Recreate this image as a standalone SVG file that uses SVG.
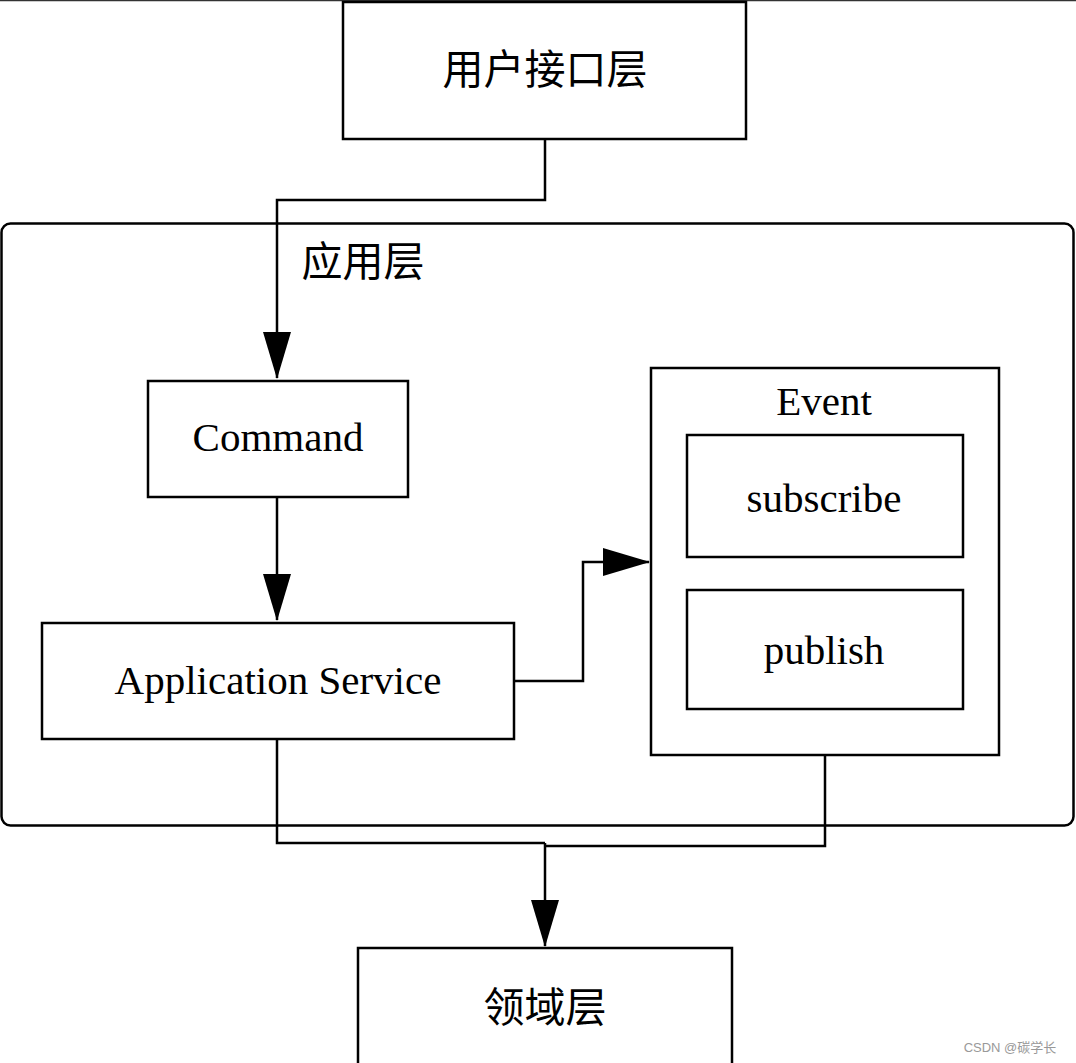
<svg xmlns="http://www.w3.org/2000/svg" width="1076" height="1063" viewBox="0 0 1076 1063">
<style>
.box{fill:#fff;stroke:#000;stroke-width:2.5}
.cont{fill:none;stroke:#000;stroke-width:2.5}
.ln{fill:none;stroke:#000;stroke-width:2.5}
.t{font-family:"Liberation Serif","Noto Sans CJK SC",serif;font-size:41px;fill:#000;text-anchor:middle;dominant-baseline:central}
.e{font-family:"Liberation Serif","Noto Sans CJK SC",serif;font-size:41px;fill:#000;text-anchor:middle;dominant-baseline:central}
.wm{font-family:"Liberation Sans","Noto Sans CJK SC",sans-serif;font-size:13px;fill:#999;text-anchor:middle;dominant-baseline:central}
</style>
<defs>
<marker id="ah" markerUnits="userSpaceOnUse" markerWidth="47" markerHeight="28" refX="46" refY="14" viewBox="0 0 47 28" orient="auto">
<path d="M0,0 L47,14 L0,28 Z" fill="#000"/>
</marker>
</defs>
<rect width="1076" height="1063" fill="#fff"/>
<line x1="0" y1="0.5" x2="1076" y2="0.5" stroke="#333" stroke-width="1.5"/>
<g id="app-layer">
<rect class="cont" x="1.5" y="223.5" width="1072" height="602" rx="9"/>
<text class="t" x="363" y="262">应用层</text>
</g>
<g id="connectors">
<polyline class="ln" points="545,139 545,200 277,200 277,378" marker-end="url(#ah)"/>
<polyline class="ln" points="277,497 277,620" marker-end="url(#ah)"/>
<polyline class="ln" points="514,681 583,681 583,562 649,562" marker-end="url(#ah)"/>
<polyline class="ln" points="277,739 277,843 545,843"/>
<polyline class="ln" points="825,755 825,846 545,846"/>
<polyline class="ln" points="545,843 545,946" marker-end="url(#ah)"/>
</g>
<g id="ui-layer">
<rect class="box" x="343" y="2" width="403" height="137"/>
<text class="t" x="545" y="70">用户接口层</text>
</g>
<g id="command">
<rect class="box" x="148" y="381" width="260" height="116"/>
<text class="e" x="278" y="437">Command</text>
</g>
<g id="app-service">
<rect class="box" x="42" y="623" width="472" height="116"/>
<text class="e" x="278" y="680">Application Service</text>
</g>
<g id="event">
<rect class="box" x="651" y="368" width="348" height="387"/>
<text class="e" x="824" y="401">Event</text>
</g>
<g id="subscribe">
<rect class="box" x="687" y="435" width="276" height="122"/>
<text class="e" x="824" y="498">subscribe</text>
</g>
<g id="publish">
<rect class="box" x="687" y="590" width="276" height="119"/>
<text class="e" x="824" y="650">publish</text>
</g>
<g id="domain-layer">
<rect class="box" x="358" y="948" width="374" height="130"/>
<text class="t" x="545" y="1008">领域层</text>
</g>
<text class="wm" x="1010" y="1047">CSDN @碳学长</text>
</svg>
